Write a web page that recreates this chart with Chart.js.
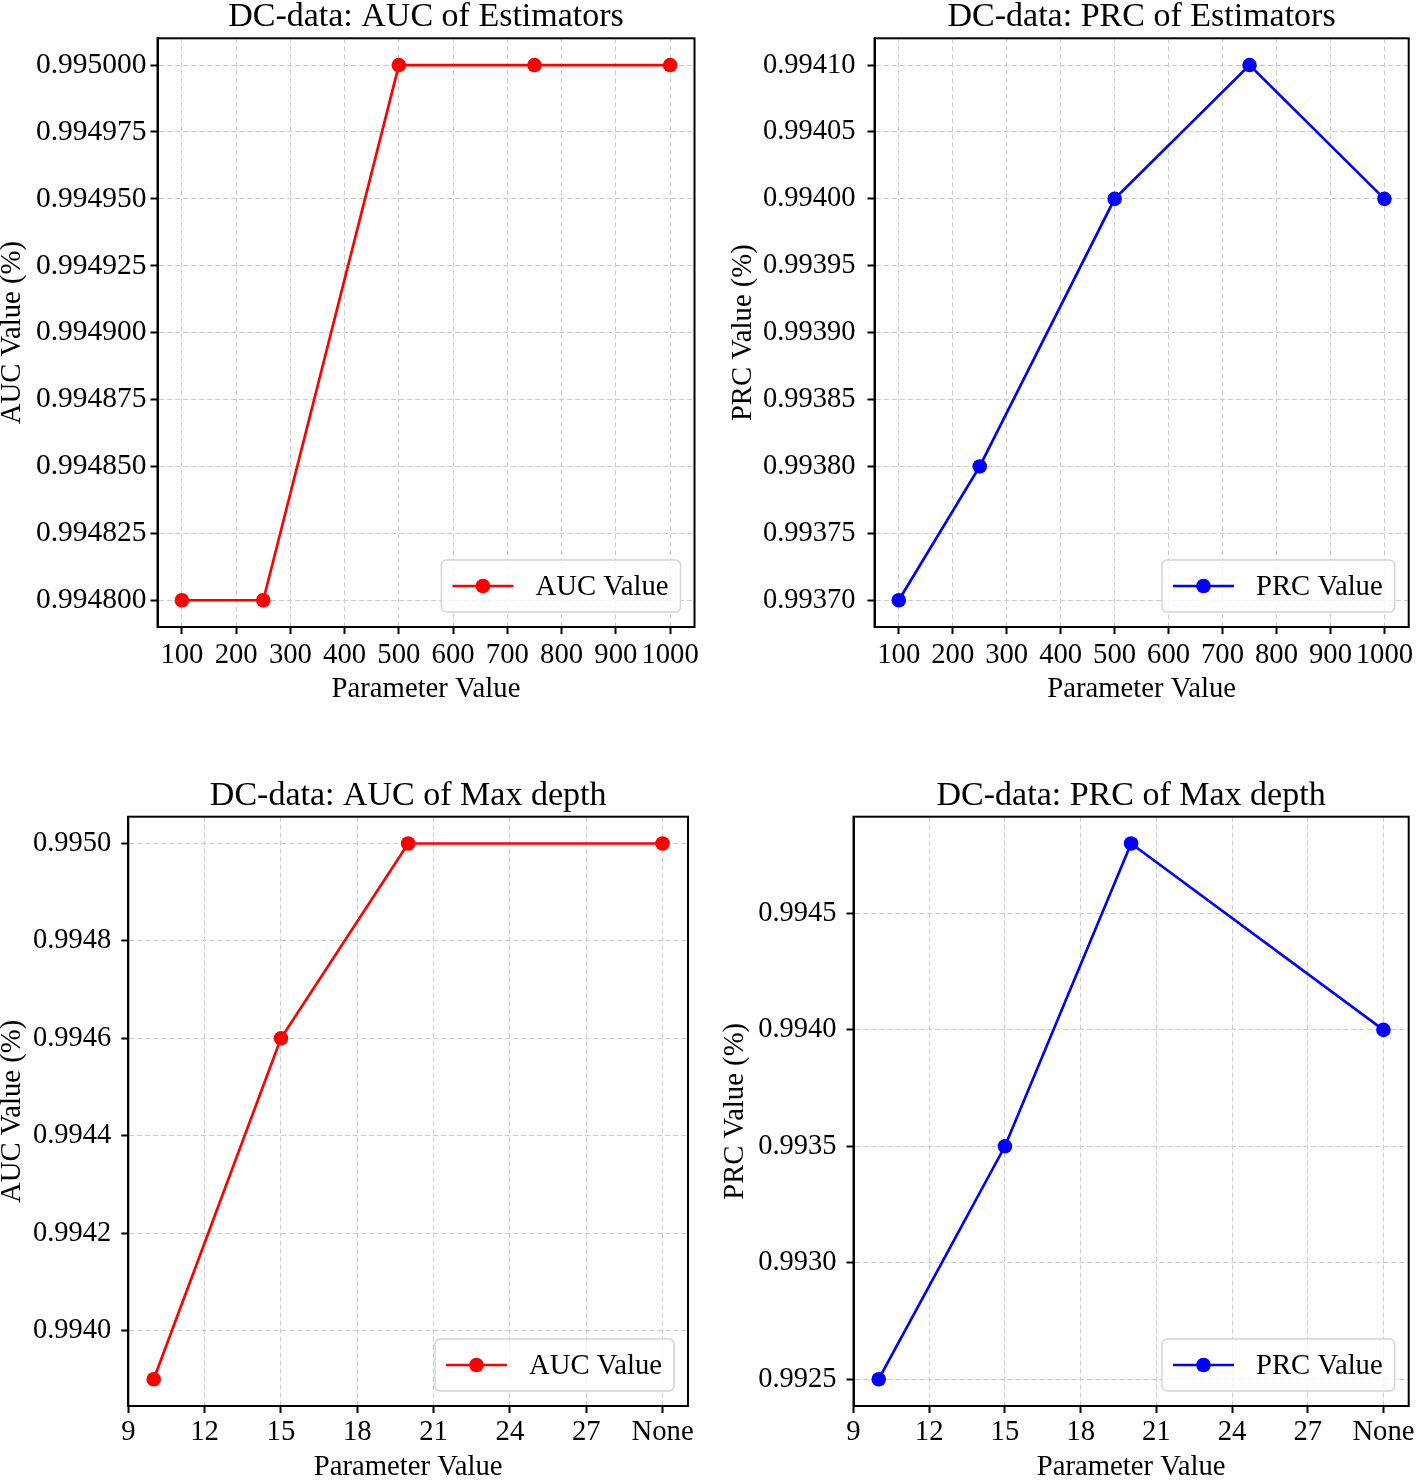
<!DOCTYPE html>
<html lang="en">
<head>
<meta charset="UTF-8">
<title>DC-data estimators and max depth</title>
<script src="https://cdn.jsdelivr.net/npm/chart.js@4.4.1/dist/chart.umd.min.js"></script>
<style>
  body { margin: 0; background: #fff; width: 1416px; height: 1483px; position: relative; overflow: hidden; }
  canvas { position: absolute; }
</style>
</head>
<body>
<canvas id="tl" width="708" height="741" style="left:0;top:0"></canvas>
<canvas id="tr" width="708" height="741" style="left:708px;top:0"></canvas>
<canvas id="bl" width="708" height="742" style="left:0;top:741px"></canvas>
<canvas id="br" width="708" height="742" style="left:708px;top:741px"></canvas>
<script>
// n_estimators sweep
const estimators = [100, 250, 500, 750, 1000];
const aucEstimators = [0.9948, 0.9948, 0.9950, 0.9950, 0.9950];
const prcEstimators = [0.9937, 0.9938, 0.9940, 0.9941, 0.9940];

// max_depth sweep, "None" is plotted at 30
const depths = [10, 15, 20, 30];
const aucDepth = [0.9939, 0.9946, 0.9950, 0.9950];
const prcDepth = [0.9925, 0.9935, 0.9948, 0.9940];

// ticks
const estTicks = [100, 200, 300, 400, 500, 600, 700, 800, 900, 1000];
const depthTicks = [9, 12, 15, 18, 21, 24, 27, 30];
const depthTickLabels = ['9', '12', '15', '18', '21', '24', '27', 'None'];
const aucEstTicks = [0.9948, 0.994825, 0.99485, 0.994875, 0.9949, 0.994925, 0.99495, 0.994975, 0.995];
const prcEstTicks = [0.9937, 0.99375, 0.9938, 0.99385, 0.9939, 0.99395, 0.994, 0.99405, 0.9941];
const aucDepthTicks = [0.994, 0.9942, 0.9944, 0.9946, 0.9948, 0.995];
const prcDepthTicks = [0.9925, 0.993, 0.9935, 0.994, 0.9945];

const FONT = "'Liberation Serif', 'Times New Roman', serif";
const TXT = 28.7;

const frame = {
  id: 'frame',
  afterDraw(chart) {
    const { ctx, chartArea: a } = chart;
    ctx.save();
    ctx.strokeStyle = '#000';
    ctx.lineWidth = 2;
    ctx.strokeRect(a.left, a.top, a.right - a.left, a.bottom - a.top);
    ctx.restore();
  }
};

const boxLegend = {
  id: 'boxLegend',
  afterDatasetsDraw(chart) {
    const { ctx, chartArea: a } = chart;
    const ds = chart.data.datasets[0];
    ctx.save();
    ctx.font = TXT + 'px ' + FONT;
    const tw = ctx.measureText(ds.label).width;
    const w = 94 + tw + 12, h = 52;
    const x = a.right - 14 - w, y = a.bottom - 15 - h;
    ctx.beginPath();
    ctx.roundRect(x, y, w, h, 5);
    ctx.fillStyle = 'rgba(255,255,255,0.8)';
    ctx.fill();
    ctx.strokeStyle = '#d4d4d4';
    ctx.lineWidth = 1.5;
    ctx.stroke();
    const cy = y + h / 2;
    ctx.strokeStyle = ds.borderColor;
    ctx.lineWidth = 2.7;
    ctx.beginPath();
    ctx.moveTo(x + 11, cy);
    ctx.lineTo(x + 72, cy);
    ctx.stroke();
    ctx.fillStyle = ds.borderColor;
    ctx.beginPath();
    ctx.arc(x + 41.5, cy, 7.3, 0, Math.PI * 2);
    ctx.fill();
    ctx.fillStyle = '#000';
    ctx.textBaseline = 'middle';
    ctx.textAlign = 'left';
    ctx.fillText(ds.label, x + 94, cy + 1);
    ctx.restore();
  }
};

function makeChart(id, o) {
  new Chart(document.getElementById(id), {
    type: 'line',
    data: {
      datasets: [{
        label: o.label,
        data: o.x.map((x, i) => ({ x: x, y: o.y[i] })),
        borderColor: o.color,
        backgroundColor: o.color,
        borderWidth: 2.7,
        pointRadius: 7.3,
        pointHoverRadius: 7.3,
        pointBorderWidth: 0,
        tension: 0
      }]
    },
    options: {
      responsive: false,
      animation: false,
      events: [],
      layout: { padding: { left: 0, right: o.padRight, top: 0, bottom: 0 } },
      plugins: {
        legend: { display: false },
        tooltip: { enabled: false },
        title: {
          display: true,
          text: o.title,
          color: '#000',
          fullSize: false,
          font: { family: FONT, size: 34, weight: 'normal', lineHeight: 1 },
          padding: { top: o.titleTop, bottom: o.titleBottom }
        }
      },
      scales: {
        x: {
          type: 'linear',
          min: o.xMin, max: o.xMax,
          afterBuildTicks: s => { s.ticks = o.xTicks.map(v => ({ value: v })); },
          afterFit: s => { s.height = o.xAxisH; s.paddingLeft = 0; s.paddingRight = 0; },
          ticks: {
            autoSkip: false, maxRotation: 0, minRotation: 0,
            padding: o.xTickPad, color: '#000',
            font: { family: FONT, size: TXT, lineHeight: 1.2 },
            callback: (v, i) => o.xLabels[i]
          },
          grid: { color: '#cccccc', lineWidth: 1, tickColor: '#000', tickLength: 7, tickWidth: 2, tickBorderDash: [] },
          border: { display: true, color: '#000', width: 2, dash: [5, 3] },
          title: {
            display: true, text: 'Parameter Value', color: '#000',
            font: { family: FONT, size: TXT, lineHeight: 1 },
            padding: { top: 0, bottom: o.xTitlePad }
          }
        },
        y: {
          type: 'linear',
          min: o.yMin, max: o.yMax,
          afterBuildTicks: s => { s.ticks = o.yTicks.map(v => ({ value: v })); },
          afterFit: s => { s.width = o.yAxisW; s.paddingTop = 0; s.paddingBottom = 0; },
          ticks: {
            autoSkip: false, padding: o.yTickPad, color: '#000',
            font: { family: FONT, size: o.yTickSize, lineHeight: 1.2 },
            callback: v => v.toFixed(o.yDigits)
          },
          grid: { color: '#cccccc', lineWidth: 1, tickColor: '#000', tickLength: 7, tickWidth: 2, tickBorderDash: [] },
          border: { display: true, color: '#000', width: 2, dash: [5, 3] },
          title: {
            display: true, text: o.yTitle, color: '#000',
            font: { family: FONT, size: TXT, lineHeight: 1 },
            padding: { top: o.yTitlePad, bottom: 0 }
          }
        }
      }
    },
    plugins: [boxLegend, frame]
  });
}

makeChart('tl', {
  title: 'DC-data: AUC of Estimators', label: 'AUC Value', yTitle: 'AUC Value (%)', color: '#ff0000',
  x: estimators, y: aucEstimators, xTicks: estTicks, xLabels: estTicks.map(String),
  xMin: 55, xMax: 1045, yMin: 0.99479, yMax: 0.99501, yTicks: aucEstTicks, yDigits: 6, yTickSize: 29.5,
  yAxisW: 157.5, padRight: 13.5, xAxisH: 114, titleTop: 0, titleBottom: 4.3,
  xTickPad: 4, xTitlePad: 37, yTickPad: 4, yTitlePad: -2
});

makeChart('tr', {
  title: 'DC-data: PRC of Estimators', label: 'PRC Value', yTitle: 'PRC Value (%)', color: '#0000ff',
  x: estimators, y: prcEstimators, xTicks: estTicks, xLabels: estTicks.map(String),
  xMin: 55, xMax: 1045, yMin: 0.99368, yMax: 0.99412, yTicks: prcEstTicks, yDigits: 5, yTickSize: 28.5,
  yAxisW: 166.5, padRight: 4.5, xAxisH: 114, titleTop: 0, titleBottom: 4.3,
  xTickPad: 4, xTitlePad: 37, yTickPad: 12, yTitlePad: 21
});

makeChart('bl', {
  title: 'DC-data: AUC of Max depth', label: 'AUC Value', yTitle: 'AUC Value (%)', color: '#ff0000',
  x: depths, y: aucDepth, xTicks: depthTicks, xLabels: depthTickLabels,
  xMin: 9, xMax: 31, yMin: 0.993845, yMax: 0.995055, yTicks: aucDepthTicks, yDigits: 4, yTickSize: 28.5,
  yAxisW: 128.3, padRight: 20, xAxisH: 77, titleTop: 38.5, titleBottom: 3.2,
  xTickPad: 2, xTitlePad: 1, yTickPad: 10, yTitlePad: -2
});

makeChart('br', {
  title: 'DC-data: PRC of Max depth', label: 'PRC Value', yTitle: 'PRC Value (%)', color: '#0000ff',
  x: depths, y: prcDepth, xTicks: depthTicks, xLabels: depthTickLabels,
  xMin: 9, xMax: 31, yMin: 0.992385, yMax: 0.994915, yTicks: prcDepthTicks, yDigits: 4, yTickSize: 28.5,
  yAxisW: 145.5, padRight: 5.5, xAxisH: 77, titleTop: 38.5, titleBottom: 3.2,
  xTickPad: 2, xTitlePad: 1, yTickPad: 10, yTitlePad: 13.5
});
</script>
</body>
</html>
